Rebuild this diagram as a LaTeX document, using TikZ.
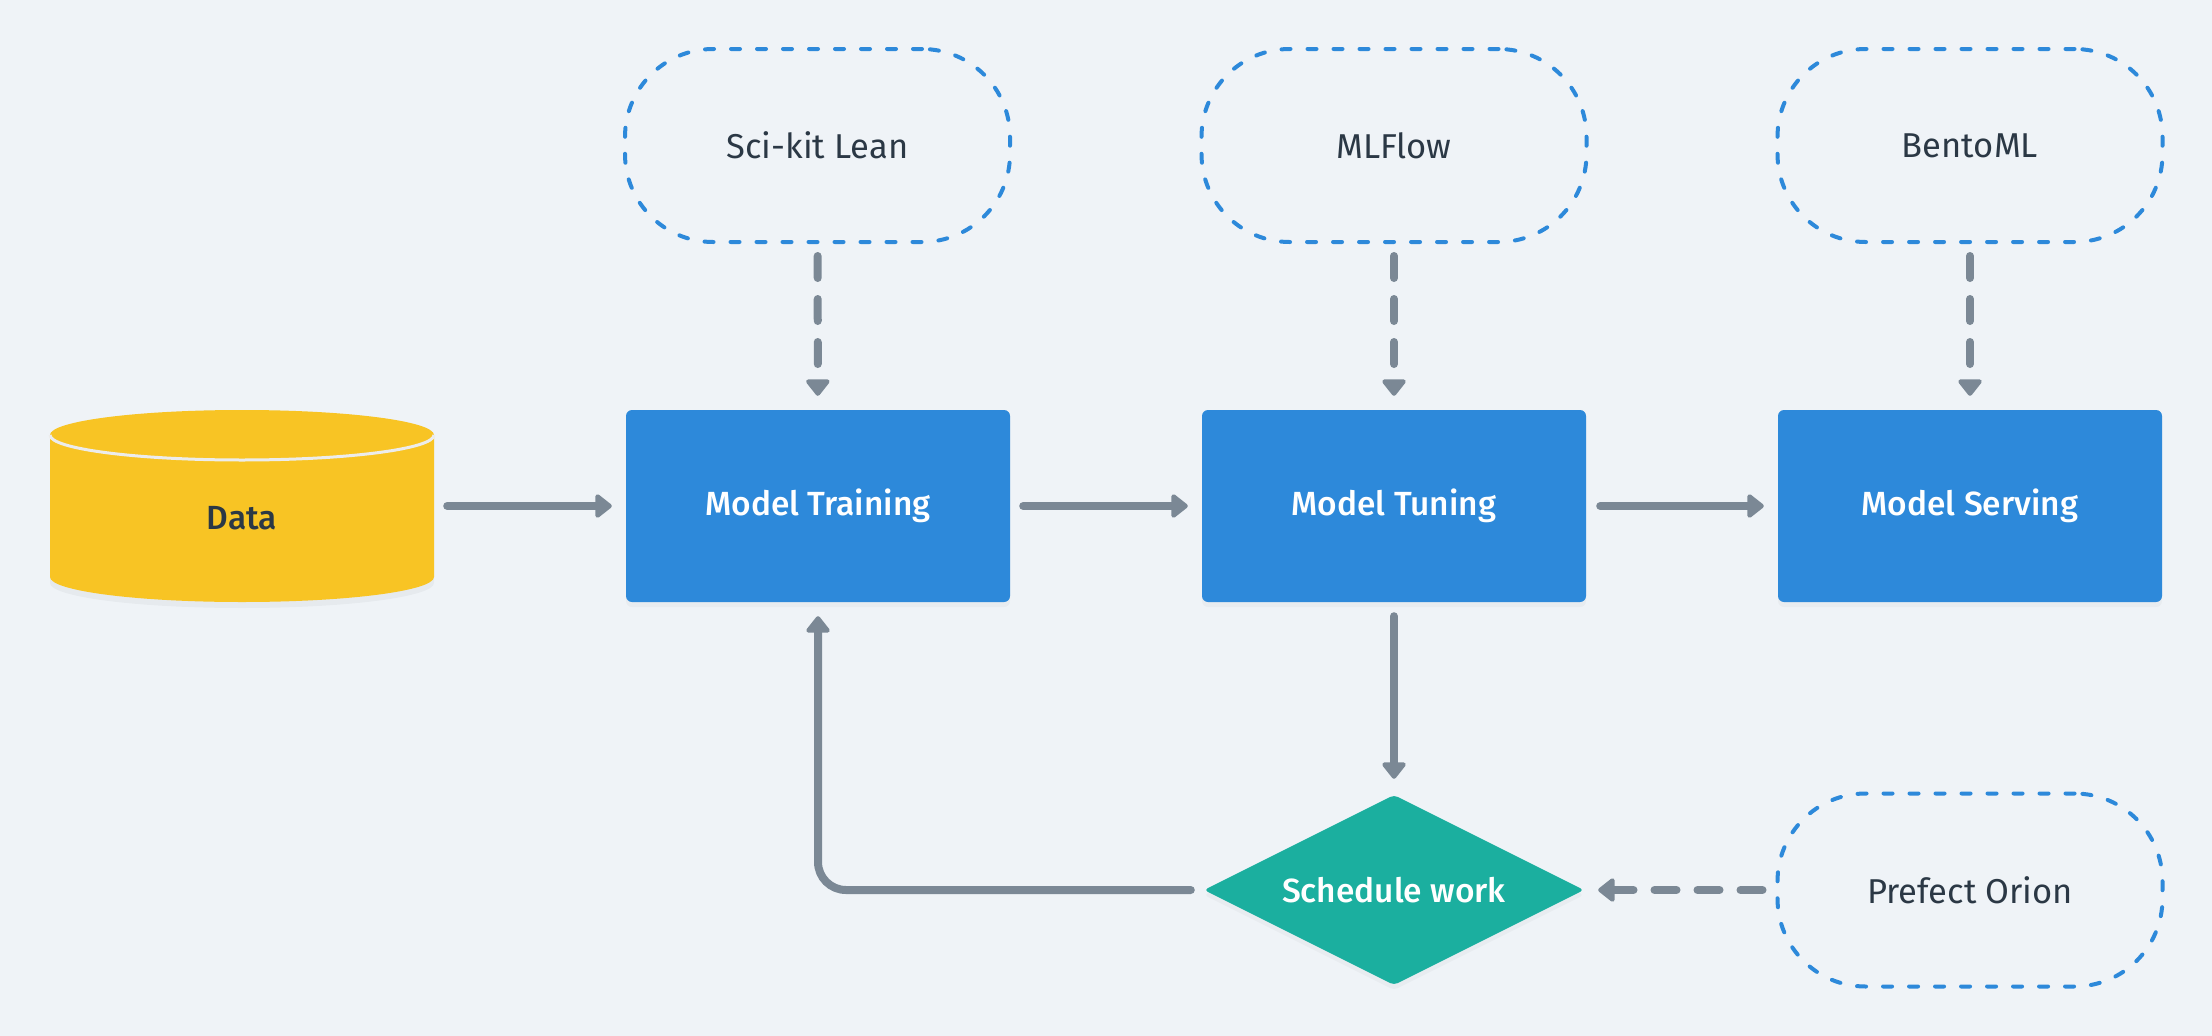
\documentclass[tikz,border=0pt]{standalone}
\usepackage{fontspec}
\setmainfont{Fira Sans}
\newfontfamily\medfont{Fira Sans Medium}
\usetikzlibrary{shapes.geometric,arrows.meta,shadows}
\definecolor{bgcol}{HTML}{EFF3F7}
\definecolor{boxblue}{HTML}{2D89DA}
\definecolor{dashblue}{HTML}{2D89DA}
\definecolor{datayellow}{HTML}{F8C424}
\definecolor{schedteal}{HTML}{1BAF9F}
\definecolor{arrowgray}{HTML}{7B8895}
\definecolor{textdark}{HTML}{2B3845}
\begin{document}
\begin{tikzpicture}[x=1pt,y=-1pt,
  softshadow/.style={drop shadow={opacity=0.06,shadow xshift=0pt,shadow yshift=-5pt}},
  box/.style={rectangle, fill=boxblue, minimum width=384pt, minimum height=192pt,
    rounded corners=6pt, text=white, font=\medfont\fontsize{33.5}{40}\selectfont, softshadow},
  tool/.style={rectangle, draw=dashblue, line width=4pt, dash pattern=on 9pt off 17pt,
    line cap=round, rounded corners=88pt, minimum width=385pt, minimum height=193pt,
    text=textdark, font=\fontsize{34.5}{41}\selectfont},
  conn/.style={draw=arrowgray, line width=8pt, line cap=round,
    -{Triangle[width=27pt,length=18pt,round]}},
  dconn/.style={conn, dash pattern=on 22pt off 21pt}
]
\fill[bgcol] (0,0) rectangle (2212,1036);
\useasboundingbox (0,0) rectangle (2212,1036);

% data cylinder
\fill[black,opacity=0.035] (50,441) -- (50,583)
  arc[start angle=180,end angle=360,x radius=192pt,y radius=25pt] -- (434,441) -- cycle;
\fill[datayellow] (50,435) -- (50,577)
  arc[start angle=180,end angle=360,x radius=192pt,y radius=25pt]
  -- (434,435)
  arc[start angle=0,end angle=180,x radius=192pt,y radius=25pt] -- cycle;
\draw[white!85!gray,line width=3pt] (50,435)
  arc[start angle=180,end angle=360,x radius=192pt,y radius=25pt];
\node[minimum width=384pt, minimum height=192pt, inner sep=0pt] (data) at (242,506) {};
\node[text=textdark, font=\medfont\fontsize{33.5}{40}\selectfont] (datalabel) at (242,518) {Data};

% main boxes
\node[box] (train) at (818,506) {Model Training};
\node[box] (tune) at (1394,506) {Model Tuning};
\node[box] (serve) at (1970,506) {Model Serving};

% tools
\node[tool] (sk) at (817.5,145.5) {Sci-kit Lean};
\node[tool] (mlf) at (1394,145.5) {MLFlow};
\node[tool] (bento) at (1970,145.5) {BentoML};
\node[tool] (pref) at (1970,890) {Prefect Orion};

% decision
\node[diamond, fill=schedteal, aspect=2, minimum width=380pt, minimum height=190pt,
  inner sep=0pt, rounded corners=4pt, text=white, softshadow,
  font=\medfont\fontsize{33.5}{40}\selectfont] (sched) at (1394,890) {Schedule work};

% connectors
\draw[conn, shorten <=13pt, shorten >=14pt] (data) -- (train);
\draw[conn, shorten <=13pt, shorten >=14pt] (train) -- (tune);
\draw[conn, shorten <=14pt, shorten >=14pt] (tune) -- (serve);
\draw[dconn, shorten <=12pt, shorten >=14pt] (sk) -- (train);
\draw[dconn, shorten <=12pt, shorten >=14pt] (mlf) -- (tune);
\draw[dconn, shorten <=12pt, shorten >=14pt] (bento) -- (serve);
\draw[conn, shorten <=14pt, shorten >=16pt] (tune) -- (sched);
\draw[dconn, shorten <=13pt, shorten >=14pt] (pref) -- (sched);
\draw[conn, rounded corners=28pt, shorten <=13pt, shorten >=14pt] (sched.west) -| (train.south);
\end{tikzpicture}
\end{document}
